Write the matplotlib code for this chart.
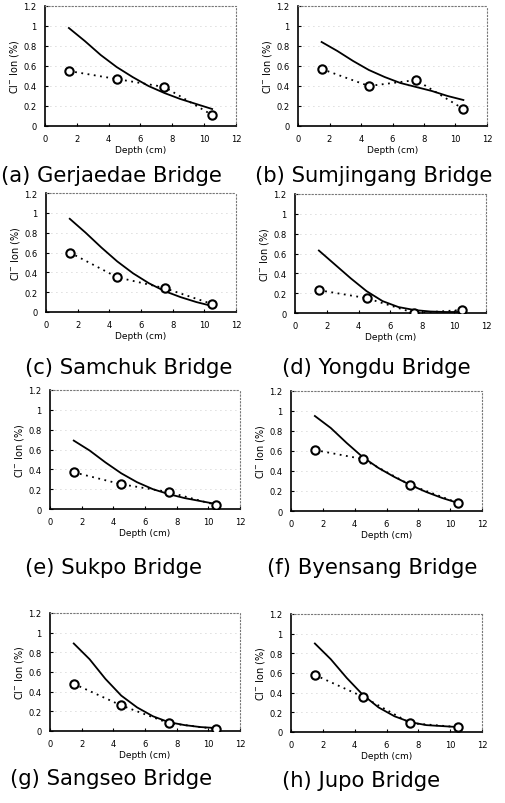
import matplotlib
matplotlib.use("Agg")
import matplotlib.pyplot as plt

W, H = 506, 804

# ---------------- data ----------------
depth_meas = [1.5, 4.5, 7.5, 10.5]
depth_fit = [1.5, 2.5, 3.5, 4.5, 5.5, 6.5, 7.5, 8.5, 9.5, 10.5]

captions = ["(a) Gerjaedae Bridge", "(b) Sumjingang Bridge",
            "(c) Samchuk Bridge", "(d) Yongdu Bridge",
            "(e) Sukpo Bridge", "(f) Byensang Bridge",
            "(g) Sangseo Bridge", "(h) Jupo Bridge"]

meas_a = [0.55, 0.47, 0.39, 0.11]
meas_b = [0.57, 0.40, 0.46, 0.17]
meas_c = [0.60, 0.35, 0.24, 0.08]
meas_d = [0.23, 0.15, 0.00, 0.03]
meas_e = [0.37, 0.25, 0.17, 0.04]
meas_f = [0.61, 0.52, 0.26, 0.08]
meas_g = [0.48, 0.26, 0.08, 0.02]
meas_h = [0.58, 0.36, 0.09, 0.05]

fit_a = [0.98, 0.85, 0.71, 0.59, 0.49, 0.40, 0.33, 0.27, 0.22, 0.17]
fit_b = [0.84, 0.75, 0.65, 0.56, 0.49, 0.43, 0.39, 0.35, 0.30, 0.26]
fit_c = [0.94, 0.80, 0.65, 0.51, 0.39, 0.29, 0.21, 0.15, 0.10, 0.06]
fit_d = [0.63, 0.49, 0.35, 0.22, 0.12, 0.06, 0.03, 0.015, 0.01, 0.01]
fit_e = [0.69, 0.59, 0.47, 0.36, 0.27, 0.20, 0.15, 0.11, 0.08, 0.05]
fit_f = [0.95, 0.83, 0.68, 0.54, 0.43, 0.34, 0.26, 0.19, 0.13, 0.08]
fit_g = [0.89, 0.73, 0.53, 0.36, 0.24, 0.15, 0.09, 0.06, 0.04, 0.03]
fit_h = [0.90, 0.74, 0.55, 0.38, 0.25, 0.16, 0.10, 0.07, 0.06, 0.05]

meas = [meas_a, meas_b, meas_c, meas_d, meas_e, meas_f, meas_g, meas_h]
fits = [fit_a, fit_b, fit_c, fit_d, fit_e, fit_f, fit_g, fit_h]

x_ticks = [0, 2, 4, 6, 8, 10, 12]
y_ticks = [0, 0.2, 0.4, 0.6, 0.8, 1.0, 1.2]
y_ticklabels = ["0", "0.2", "0.4", "0.6", "0.8", "1", "1.2"]

# ---------------- layout (pixels: left, right, top, bottom) ----------------
boxes = [(45, 236, 7, 127), (298, 487, 7, 127),
         (46, 236, 194, 313), (295, 486, 195, 314),
         (50, 240, 391, 510), (291, 482, 392, 512),
         (50, 240, 614, 732), (291, 482, 615, 733)]
cap_pos = [(1, 176), (255, 176), (25, 368), (282, 368),
           (25, 568), (267, 568), (10, 779), (282, 781)]

fig = plt.figure(figsize=(W / 100, H / 100), dpi=100)
fig.patch.set_facecolor("white")

for i in range(8):
    l, r, t, b = boxes[i]
    ax = fig.add_axes([l / W, 1 - b / H, (r - l) / W, (b - t) / H])
    ax.set_xlim(0, 12)
    ax.set_ylim(0, 1.2)
    ax.set_xticks(x_ticks)
    ax.set_yticks(y_ticks)
    ax.set_yticklabels(y_ticklabels)
    ax.tick_params(direction="in", length=2, width=0.8, labelsize=6,
                   pad=6, colors="black")
    for s in ["left", "bottom"]:
        ax.spines[s].set_linewidth(1.2)
        ax.spines[s].set_color("black")
    for s in ["top", "right"]:
        ax.spines[s].set_linestyle((0, (1, 2)))
        ax.spines[s].set_linewidth(0.8)
        ax.spines[s].set_color("#777777")
    ax.grid(axis="y", linestyle=(0, (1, 5)), color="#bbbbbb", linewidth=0.6)
    ax.plot(depth_fit, fits[i], color="black", linewidth=1.3, zorder=3)
    ax.plot(depth_meas, meas[i], color="black", linewidth=1.3,
            linestyle=(0, (1, 2.5)), zorder=4)
    ax.plot(depth_meas, meas[i], linestyle="none", marker="o",
            markersize=6, markerfacecolor="white", markeredgecolor="black",
            markeredgewidth=1.5, zorder=5)
    ax.set_xlabel("Depth (cm)", fontsize=6.5, labelpad=1)
    ax.set_ylabel("Cl$^{-}$ Ion (%)", fontsize=7, labelpad=2)
    cx, cy = cap_pos[i]
    fig.text(cx / W, 1 - cy / H, captions[i], fontsize=15.2,
             ha="left", va="center", color="black")

fig.savefig("out.png", dpi=100, facecolor="white")
